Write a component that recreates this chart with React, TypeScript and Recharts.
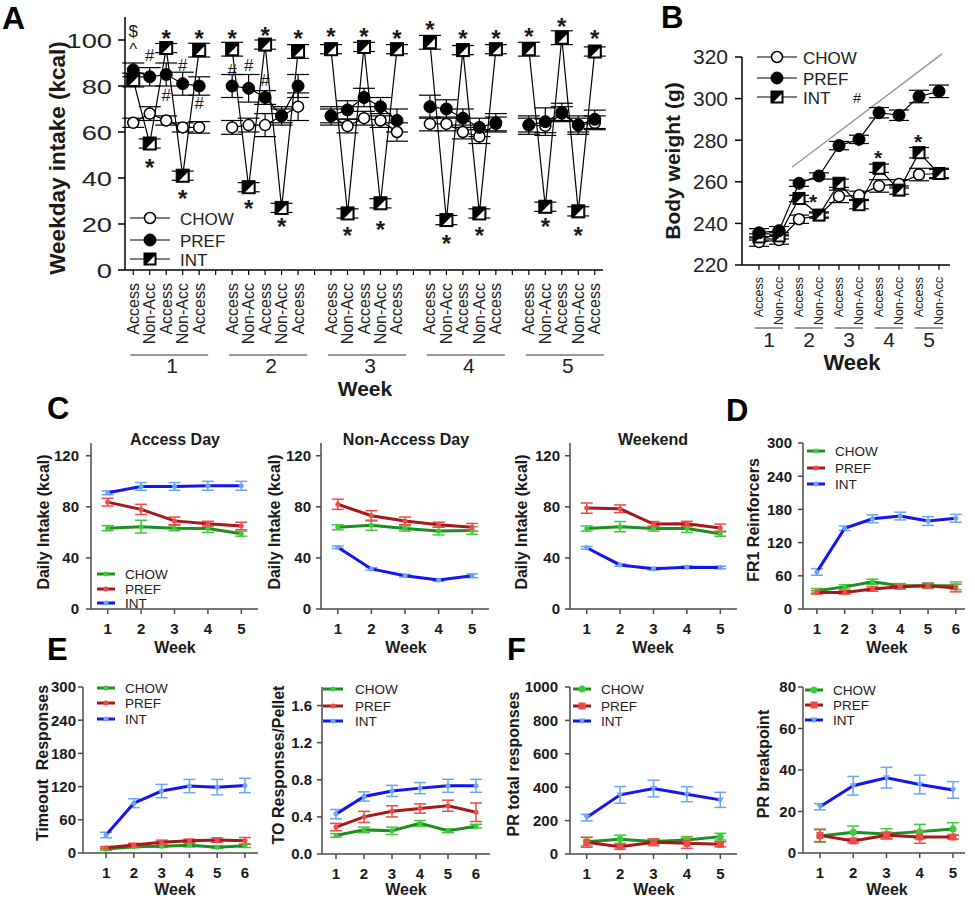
import React from 'react';
import { ComposedChart, Line, XAxis, YAxis, ErrorBar, ReferenceDot, ReferenceLine } from 'recharts';

const FONT = '"Liberation Sans", Arial, Helvetica, sans-serif';
const INK = '#1a1a1a';

// ================= Panel A: weekday intake =================
const aWeeks = ['1', '2', '3', '4', '5'];
const aDays = ['Access', 'Non-Acc', 'Access', 'Non-Acc', 'Access'];
const aChow = [64, 68, 65, 62, 62, 62, 63, 63, 67, 71, 67, 62.6, 66, 65, 60, 63.5, 63.5, 60, 58, 63.5, 63, 62.7, 68, 63, 64];
const aChowErr = [2, 3, 2, 2, 2.5, 3, 3, 5, 3, 6, 3, 3, 3, 3, 4, 3, 3, 3, 3, 3, 3, 3, 3, 3, 3];
const aPref = [87, 84, 85, 81, 80, 80, 79, 75, 67, 80, 67, 69.6, 75, 71, 65, 71, 70, 66, 62, 64, 63, 64.5, 68.5, 63, 65.5];
const aPrefErr = [3, 4, 5, 5, 4, 5, 6, 3, 4, 5, 4, 4, 4, 4, 5, 5, 4, 4, 4, 4, 4, 6, 4, 4, 4];
const aInt = [82.6, 55, 96.5, 41, 95.6, 96, 36, 98, 27, 95, 96, 24.6, 97, 29, 96, 99, 21.7, 95.6, 24.6, 96, 96, 27.5, 101, 25.5, 95];
const aIntErr = [3, 2, 2, 2, 3, 3, 2, 2, 2, 3, 2, 2, 2, 2, 2, 3, 2, 2, 2, 2, 3, 2, 3, 2, 2];
// [week index, day index, value, symbol]
const aNotes: [number, number, number, string][] = [
  [0, 0, 104, '$'], [0, 0, 97.5, '^'], [0, 1, 93.5, '#'], [0, 1, 47, '*'], [0, 2, 103, '*'], [0, 2, 76, '#'],
  [0, 3, 89, '#'], [0, 3, 33.5, '*'], [0, 4, 103, '*'], [0, 4, 72.6, '#'],
  [1, 0, 103, '*'], [1, 0, 87, '#'], [1, 1, 89, '#'], [1, 1, 29, '*'], [1, 2, 104, '*'], [1, 2, 82.6, '#'],
  [1, 3, 21, '*'], [1, 4, 103, '*'],
  [2, 0, 103.6, '*'], [2, 1, 17.4, '*'], [2, 2, 103.6, '*'], [2, 3, 20, '*'], [2, 4, 103, '*'],
  [3, 0, 107, '*'], [3, 1, 13.8, '*'], [3, 2, 103, '*'], [3, 3, 17.4, '*'], [3, 4, 103, '*'],
  [4, 0, 103.6, '*'], [4, 1, 21, '*'], [4, 2, 108, '*'], [4, 3, 17.4, '*'], [4, 4, 103, '*'],
];

// ================= Panel B: body weight =================
const bWeeks = ['1', '2', '3', '4', '5'];
const bDays = ['Access', 'Non-Acc'];
const bChow = [231, 232, 242, 244, 253, 253.5, 258, 259, 263.5, 264];
const bChowErr = [2, 2, 2, 1.5, 3, 2, 3, 2, 3, 2];
const bPref = [235.5, 236.5, 259.3, 262.8, 277.4, 280.4, 293.2, 292, 301, 303.5];
const bPrefErr = [2, 2, 1.5, 1.5, 2, 2, 2.5, 2.5, 3, 3];
const bInt = [233.5, 234, 252, 244, 259.3, 249, 266.5, 256, 274, 264];
const bIntErr = [1.5, 1.5, 1.5, 1, 2, 2, 2, 2, 2.5, 2.5];
const bNotes = [
  { x: 2.7, y: 252.5, t: '*' },
  { x: 5.95, y: 274, t: '*' },
  { x: 7.95, y: 281.5, t: '*' },
  { x: 4.9, y: 300.3, t: '#' },
];
const bTrend = [{ x: 1.65, y: 267 }, { x: 9.15, y: 321.5 }];

// ================= Panels C-F =================
const weeks5 = [1, 2, 3, 4, 5];
const weeks6 = [1, 2, 3, 4, 5, 6];

const cAccChow = [63.3, 64.5, 63.3, 63, 59];
const cAccChowErr = [2, 5, 2, 3, 2];
const cAccPref = [83.7, 78, 69, 66.7, 65];
const cAccPrefErr = [3, 4, 3, 2, 3];
const cAccInt = [91, 96, 96, 96.5, 96.5];
const cAccIntErr = [1.5, 3, 3, 3.5, 3.5];

const cNonChow = [64, 65.6, 63, 61, 61.5];
const cNonChowErr = [2, 4, 2, 3, 3];
const cNonPref = [82, 73, 69, 66, 64];
const cNonPrefErr = [4, 4, 3, 2, 3];
const cNonInt = [48.4, 31.4, 26, 22.7, 26];
const cNonIntErr = [1, 1, 1, 1, 1.5];

const cWkndChow = [63, 64.5, 63, 63, 59];
const cWkndChowErr = [2, 4, 2, 3, 2];
const cWkndPref = [79, 78.5, 66.5, 66.7, 63.5];
const cWkndPrefErr = [4, 3, 2, 2, 3];
const cWkndInt = [48, 34.5, 31.5, 32.7, 32.5];
const cWkndIntErr = [1, 1, 1, 1, 1];

const dChow = [33, 40, 49, 42, 42, 42];
const dChowErr = [4, 4, 5, 4, 5, 7];
const dPref = [30, 30, 36, 40, 42, 38];
const dPrefErr = [3, 3, 4, 4, 4, 7];
const dInt = [67, 146, 163, 168, 159, 164];
const dIntErr = [6, 4, 7, 7, 8, 7];

const eToChow = [7, 11.5, 12, 14, 10.5, 13];
const eToChowErr = [2, 2, 2, 3, 2, 3];
const eToPref = [9.6, 14.5, 19.3, 22, 23.5, 22];
const eToPrefErr = [2, 3, 4, 3, 4, 6];
const eToInt = [32.5, 90, 112, 121, 119, 122];
const eToIntErr = [5, 8, 12, 12, 14, 13];

const eRatioChow = [0.2, 0.26, 0.25, 0.33, 0.25, 0.3];
const eRatioChowErr = [0.02, 0.03, 0.04, 0.03, 0.02, 0.02];
const eRatioPref = [0.29, 0.4, 0.46, 0.49, 0.52, 0.45];
const eRatioPrefErr = [0.04, 0.06, 0.06, 0.05, 0.06, 0.1];
const eRatioInt = [0.43, 0.62, 0.68, 0.71, 0.735, 0.735];
const eRatioIntErr = [0.05, 0.05, 0.06, 0.06, 0.07, 0.07];

const fRespChow = [74, 88, 75, 84, 104];
const fRespChowErr = [25, 25, 15, 20, 20];
const fRespPref = [70, 44, 70, 64, 58];
const fRespPrefErr = [30, 15, 20, 30, 15];
const fRespInt = [218, 354, 392, 358, 324];
const fRespIntErr = [20, 50, 50, 45, 45];

const fBpChow = [8.2, 10, 9.2, 10.3, 11.6];
const fBpChowErr = [3, 3, 2.5, 3.5, 3];
const fBpPref = [8.5, 5.8, 8.5, 7.7, 7.7];
const fBpPrefErr = [3, 1, 1.5, 3, 1];
const fBpInt = [22.3, 32.4, 36.3, 33, 30.4];
const fBpIntErr = [1.5, 4.5, 5, 4.5, 4];

const SERIES = [
  { key: 'chow', name: 'CHOW', line: '#1E8E1E', light: '#3DCB3D' },
  { key: 'pref', name: 'PREF', line: '#A81818', light: '#F04A4A' },
  { key: 'int', name: 'INT', line: '#1515EE', light: '#6AA6F2' },
];

// ================= markers =================
const OpenCircle = ({ cx, cy, r = 5.5 }: any) => (
  <circle cx={cx} cy={cy} r={r} fill="#fff" stroke="#000" strokeWidth={1.5} />
);
const FilledCircle = ({ cx, cy, r = 6 }: any) => (
  <circle cx={cx} cy={cy} r={r} fill="#000" stroke="#000" strokeWidth={1} />
);
const HalfSquare = ({ cx, cy, s = 12 }: any) => {
  const h = s / 2;
  return (
    <g>
      <rect x={cx - h} y={cy - h} width={s} height={s} fill="#000" stroke="#000" strokeWidth={1} />
      <polygon points={`${cx + h - 1.5},${cy - h + 3} ${cx + h - 1.5},${cy + h - 1.5} ${cx - h + 3},${cy + h - 1.5}`} fill="#fff" />
    </g>
  );
};

const dotFn = (Comp: any, extra: any = {}) => (p: any) => {
  const key = `${p.dataKey}-${p.index}`;
  if (p.cx == null || p.cy == null || p.value == null || Number.isNaN(p.cy)) return <g key={key} />;
  return <Comp key={key} cx={p.cx} cy={p.cy} {...extra} />;
};

const MiniMarker = ({ shape, cx, cy, color }: any) => {
  if (shape === 'square') return <rect x={cx - 3.5} y={cy - 3.5} width={7} height={7} fill={color} />;
  if (shape === 'tri') return <polygon points={`${cx - 3.5},${cy - 2.5} ${cx + 3.5},${cy - 2.5} ${cx},${cy + 3.5}`} fill={color} />;
  if (shape === 'big') return <circle cx={cx} cy={cy} r={3.5} fill={color} />;
  return <circle cx={cx} cy={cy} r={2.5} fill={color} />;
};

const miniDot = (shape: string, color: string) => (p: any) => {
  const key = `${p.dataKey}-${p.index}`;
  if (p.cx == null || p.cy == null) return <g key={key} />;
  return <MiniMarker key={key} shape={shape} cx={p.cx} cy={p.cy} color={color} />;
};

const NoteText = ({ cx, cy, t, size }: any) => {
  const star = t === '*';
  const fs = star ? size : size * 0.7;
  const offs: any = { '*': 0.57, '#': 0.36, '$': 0.36, '^': 0.55 };
  return (
    <text x={cx} y={cy + fs * (offs[t] ?? 0.36)} textAnchor="middle" fontSize={fs}
      fontWeight={star ? 700 : 400} fill={INK} fontFamily={FONT}>{t}</text>
  );
};

const renderNotes = (notes: { x: number; y: number; t: string }[], size: number) =>
  notes.map((n, i) => (
    <ReferenceDot key={`note-${i}`} x={n.x} y={n.y} r={0} ifOverflow="visible"
      shape={(p: any) => <NoteText cx={p.cx} cy={p.cy} t={n.t} size={size} />} />
  ));

// ================= Panel A =================
const aData = (() => {
  const rows: any[] = [];
  for (let w = 0; w < aWeeks.length; w++) {
    for (let d = 0; d < 6; d++) {
      const slot = w * 6 + d;
      if (d === 5) {
        if (w < aWeeks.length - 1) rows.push({ x: slot, chow: null, pref: null, int: null });
        continue;
      }
      const i = w * 5 + d;
      rows.push({
        x: slot, chow: aChow[i], chowErr: aChowErr[i], pref: aPref[i], prefErr: aPrefErr[i],
        int: aInt[i], intErr: aIntErr[i],
      });
    }
  }
  return rows;
})();
const aSlots = aData.map((r) => r.x);
const aNoteData = aNotes.map(([w, d, v, t]) => ({ x: w * 6 + d, y: v, t }));

const ATick = (props: any) => {
  const { x, y, payload } = props;
  const s = payload.value as number;
  const d = s % 6;
  if (d === 5) return <g />;
  const w = Math.floor(s / 6);
  return (
    <g>
      <text transform={`translate(${x + 5.5},${y + 5}) rotate(-90)`} textAnchor="end" fontSize={16}
        fill="#222" fontFamily={FONT}>{aDays[d]}</text>
      {d === 2 && (
        <g>
          <line x1={x - 36} x2={x + 42} y1={y + 77} y2={y + 77} stroke="#777" strokeWidth={1.5} />
          <text x={x + 6} y={y + 95} textAnchor="middle" fontSize={21} fill="#222" fontFamily={FONT}>{aWeeks[w]}</text>
        </g>
      )}
    </g>
  );
};

const AYTick = (props: any) => {
  const { x, y, payload } = props;
  return (
    <text transform={`translate(${x},${y + 7.5}) scale(1.3,1)`} textAnchor="end" fontSize={21}
      fill="#222" fontFamily={FONT}>{payload.value}</text>
  );
};

function PanelA() {
  const x0 = 125, x1 = 603, yTop = 17, yBottom = 270, yw = 75, xh = 130, mt = 12, mr = 10;
  const axis = { stroke: '#000', strokeWidth: 1.5 };
  return (
    <div style={{ position: 'absolute', left: x0 - yw, top: yTop - mt }}>
      <ComposedChart width={yw + x1 - x0 + mr} height={mt + yBottom - yTop + xh} data={aData}
        margin={{ top: mt, right: mr, bottom: 0, left: 0 }}>
        <XAxis type="number" dataKey="x" domain={[-0.5, 28.5]} ticks={aSlots} interval={0} height={xh}
          tickSize={5} tickMargin={3} tick={(p: any) => <ATick {...p} />} axisLine={axis} tickLine={{ stroke: '#000', strokeWidth: 1.2 }} />
        <YAxis type="number" domain={[0, 110]} ticks={[0, 20, 40, 60, 80, 100]} interval={0} width={yw}
          tickSize={7} tickMargin={6} tick={(p: any) => <AYTick {...p} />} axisLine={axis} tickLine={axis} />
        <Line dataKey="chow" stroke="#000" strokeWidth={1.2} isAnimationActive={false} connectNulls={false}
          dot={dotFn(OpenCircle)} activeDot={false}>
          <ErrorBar dataKey="chowErr" width={11} stroke="#000" strokeWidth={1.2} direction="y" />
        </Line>
        <Line dataKey="pref" stroke="#000" strokeWidth={1.2} isAnimationActive={false} connectNulls={false}
          dot={dotFn(FilledCircle)} activeDot={false}>
          <ErrorBar dataKey="prefErr" width={11} stroke="#000" strokeWidth={1.2} direction="y" />
        </Line>
        <Line dataKey="int" stroke="#000" strokeWidth={1.2} isAnimationActive={false} connectNulls={false}
          dot={dotFn(HalfSquare, { s: 13 })} activeDot={false}>
          <ErrorBar dataKey="intErr" width={11} stroke="#000" strokeWidth={1.2} direction="y" />
        </Line>
        {renderNotes(aNoteData, 24)}
      </ComposedChart>
    </div>
  );
}

// ================= Panel B =================
const bData = bChow.map((v, i) => ({
  x: i, chow: v, chowErr: bChowErr[i], pref: bPref[i], prefErr: bPrefErr[i], int: bInt[i], intErr: bIntErr[i],
}));
const bSlots = bData.map((r) => r.x);

const BTick = (props: any) => {
  const { x, y, payload } = props;
  const i = payload.value as number;
  const d = i % 2;
  const w = Math.floor(i / 2);
  return (
    <g>
      <text transform={`translate(${x + 4.3},${y + 4}) rotate(-90)`} textAnchor="end" fontSize={12.5}
        fill="#222" fontFamily={FONT}>{bDays[d]}</text>
      {d === 0 && (
        <g>
          <line x1={x - 4} x2={x + 24} y1={y + 55} y2={y + 55} stroke="#777" strokeWidth={1.5} />
          <text x={x + 10} y={y + 74} textAnchor="middle" fontSize={21} fill="#222" fontFamily={FONT}>{bWeeks[w]}</text>
        </g>
      )}
    </g>
  );
};

function PanelB() {
  const x0 = 742, x1 = 950, yTop = 57, yBottom = 265, yw = 100, xh = 120, mt = 14, mr = 15;
  const axis = { stroke: '#000', strokeWidth: 1.5 };
  return (
    <div style={{ position: 'absolute', left: x0 - yw, top: yTop - mt }}>
      <ComposedChart width={yw + x1 - x0 + mr} height={mt + yBottom - yTop + xh} data={bData}
        margin={{ top: mt, right: mr, bottom: 0, left: 0 }}>
        <XAxis type="number" dataKey="x" domain={[-0.85, 9.55]} ticks={bSlots} interval={0} height={xh}
          tickSize={5} tickMargin={3} tick={(p: any) => <BTick {...p} />} axisLine={axis} tickLine={{ stroke: '#000', strokeWidth: 1.2 }} />
        <YAxis type="number" domain={[220, 320]} ticks={[220, 240, 260, 280, 300, 320]} interval={0} width={yw}
          tickSize={7} tickMargin={7} tick={{ fontSize: 21, fill: '#222', fontFamily: FONT }} axisLine={axis} tickLine={axis} />
        <ReferenceLine segment={bTrend} stroke="#999" strokeWidth={1.5} ifOverflow="visible" />
        <Line dataKey="chow" stroke="#000" strokeWidth={1.2} isAnimationActive={false} dot={dotFn(OpenCircle)} activeDot={false}>
          <ErrorBar dataKey="chowErr" width={10} stroke="#000" strokeWidth={1.2} direction="y" />
        </Line>
        <Line dataKey="int" stroke="#000" strokeWidth={1.2} isAnimationActive={false} dot={dotFn(HalfSquare, { s: 12 })} activeDot={false}>
          <ErrorBar dataKey="intErr" width={10} stroke="#000" strokeWidth={1.2} direction="y" />
        </Line>
        <Line dataKey="pref" stroke="#000" strokeWidth={1.2} isAnimationActive={false} dot={dotFn(FilledCircle)} activeDot={false}>
          <ErrorBar dataKey="prefErr" width={10} stroke="#000" strokeWidth={1.2} direction="y" />
        </Line>
        {renderNotes(bNotes, 21)}
      </ComposedChart>
    </div>
  );
}

// ================= Panels C-F =================
function Mini(props: any) {
  const { x0, x1, yTop, yBottom, xDomain, weeks, yDomain, yTicks, yTickMargin, series, shapes, yFmt } = props;
  const yw = 62, xh = 34, mt = 10, mr = 10;
  const data = weeks.map((w: number, i: number) => ({
    x: w,
    chow: series[0][i], chowErr: series[1][i],
    pref: series[2][i], prefErr: series[3][i],
    int: series[4][i], intErr: series[5][i],
  }));
  const axisStyle = { stroke: '#4a4a4a', strokeWidth: 1.5 };
  const tickStyle = { fontSize: 15, fontWeight: 700, fill: '#1a1a1a', fontFamily: FONT };
  return (
    <div style={{ position: 'absolute', left: x0 - yw, top: yTop - mt }}>
      <ComposedChart width={yw + (x1 - x0) + mr} height={mt + (yBottom - yTop) + xh} data={data}
        margin={{ top: mt, right: mr, bottom: 0, left: 0 }}>
        <XAxis type="number" dataKey="x" domain={xDomain} ticks={weeks} interval={0} height={xh}
          tickSize={5} tickMargin={9} tick={tickStyle} axisLine={axisStyle} tickLine={axisStyle} />
        <YAxis type="number" domain={yDomain} ticks={yTicks} interval={0} width={yw} tickSize={5}
          tickMargin={yTickMargin} tick={tickStyle} tickFormatter={yFmt} axisLine={axisStyle} tickLine={axisStyle} />
        {SERIES.map((s, k) => (
          <Line key={s.key} dataKey={s.key} stroke={s.line} strokeWidth={3} isAnimationActive={false}
            dot={miniDot(shapes[k], s.light)} activeDot={false}>
            <ErrorBar dataKey={`${s.key}Err`} width={6} stroke={s.light} strokeWidth={1.5} direction="y" />
          </Line>
        ))}
      </ComposedChart>
    </div>
  );
}

function MiniLegend({ x, ys, shapes, len = 18, gap = 28 }: any) {
  return (
    <g>
      {SERIES.map((s, i) => (
        <g key={s.key}>
          <line x1={x} x2={x + len} y1={ys[i]} y2={ys[i]} stroke={s.line} strokeWidth={3} />
          <MiniMarker shape={shapes[i]} cx={x + len / 2} cy={ys[i]} color={s.light} />
          <text x={x + gap} y={ys[i] + 5} fontSize={13.5} fill="#222" fontFamily={FONT}>{s.name}</text>
        </g>
      ))}
    </g>
  );
}

function BigLegend({ x, ys, textX, lineEnd }: any) {
  const names = ['CHOW', 'PREF', 'INT'];
  const markers = [OpenCircle, FilledCircle, HalfSquare];
  return (
    <g>
      {names.map((n, i) => {
        const M = markers[i];
        const mx = (x + lineEnd) / 2;
        return (
          <g key={n}>
            <line x1={x} x2={lineEnd} y1={ys[i]} y2={ys[i]} stroke="#000" strokeWidth={1.2} />
            <M cx={mx} cy={ys[i]} />
            <text x={textX} y={ys[i] + 6.5} fontSize={17} fill="#222" fontFamily={FONT}>{n}</text>
          </g>
        );
      })}
    </g>
  );
}

const VLabel = ({ x, y, fs, children }: any) => (
  <text transform={`translate(${x},${y}) rotate(-90)`} textAnchor="middle" fontSize={fs} fontWeight={700}
    fill={INK} fontFamily={FONT} style={{ whiteSpace: 'pre' }}>{children}</text>
);
const HLabel = ({ x, y, fs = 16, children }: any) => (
  <text x={x} y={y} textAnchor="middle" fontSize={fs} fontWeight={700} fill={INK} fontFamily={FONT}>{children}</text>
);
const Letter = ({ x, y, fs = 31, children }: any) => (
  <text x={x} y={y} fontSize={fs} fontWeight={700} fill="#000" fontFamily={FONT}>{children}</text>
);

const dotShapes = ['dot', 'dot', 'dot'];
const fShapes = ['big', 'square', 'tri'];

export default function App() {
  return (
    <div style={{ position: 'absolute', left: 0, top: 0, width: 975, height: 900, background: '#fff', fontFamily: FONT, overflow: 'hidden' }}>
      <PanelA />
      <PanelB />
      <Mini x0={91} x1={258} yTop={443} yBottom={609} xDomain={[0.5, 5.5]} weeks={weeks5} yDomain={[0, 130]}
        yTicks={[0, 40, 80, 120]} yTickMargin={7} shapes={dotShapes}
        series={[cAccChow, cAccChowErr, cAccPref, cAccPrefErr, cAccInt, cAccIntErr]} />
      <Mini x0={321} x1={489} yTop={443} yBottom={609} xDomain={[0.5, 5.5]} weeks={weeks5} yDomain={[0, 130]}
        yTicks={[0, 40, 80, 120]} yTickMargin={5} shapes={dotShapes}
        series={[cNonChow, cNonChowErr, cNonPref, cNonPrefErr, cNonInt, cNonIntErr]} />
      <Mini x0={570} x1={737} yTop={443} yBottom={609} xDomain={[0.5, 5.5]} weeks={weeks5} yDomain={[0, 130]}
        yTicks={[0, 40, 80, 120]} yTickMargin={5} shapes={dotShapes}
        series={[cWkndChow, cWkndChowErr, cWkndPref, cWkndPrefErr, cWkndInt, cWkndIntErr]} />
      <Mini x0={803} x1={965} yTop={443} yBottom={609} xDomain={[0.5, 6.33]} weeks={weeks6} yDomain={[0, 300]}
        yTicks={[0, 60, 120, 180, 240, 300]} yTickMargin={6} shapes={dotShapes}
        series={[dChow, dChowErr, dPref, dPrefErr, dInt, dIntErr]} />
      <Mini x0={83} x1={258} yTop={687} yBottom={853} xDomain={[0.17, 6.47]} weeks={weeks6} yDomain={[0, 300]}
        yTicks={[0, 60, 120, 180, 240, 300]} yTickMargin={2} shapes={dotShapes}
        series={[eToChow, eToChowErr, eToPref, eToPrefErr, eToInt, eToIntErr]} />
      <Mini x0={322} x1={490} yTop={687} yBottom={854} xDomain={[0.5, 6.5]} weeks={weeks6} yDomain={[0, 1.8]}
        yTicks={[0, 0.4, 0.8, 1.2, 1.6]} yTickMargin={5} shapes={dotShapes} yFmt={(v: number) => v.toFixed(1)}
        series={[eRatioChow, eRatioChowErr, eRatioPref, eRatioPrefErr, eRatioInt, eRatioIntErr]} />
      <Mini x0={570} x1={737} yTop={687} yBottom={854} xDomain={[0.5, 5.5]} weeks={weeks5} yDomain={[0, 1000]}
        yTicks={[0, 200, 400, 600, 800, 1000]} yTickMargin={7} shapes={fShapes}
        series={[fRespChow, fRespChowErr, fRespPref, fRespPrefErr, fRespInt, fRespIntErr]} />
      <Mini x0={803} x1={965} yTop={687} yBottom={853} xDomain={[0.49, 5.36]} weeks={weeks5} yDomain={[0, 80]}
        yTicks={[0, 20, 40, 60, 80]} yTickMargin={2} shapes={fShapes}
        series={[fBpChow, fBpChowErr, fBpPref, fBpPrefErr, fBpInt, fBpIntErr]} />

      <svg width={975} height={900} style={{ position: 'absolute', left: 0, top: 0, zIndex: 10, pointerEvents: 'none' }}>
        <Letter x={2} y={29} fs={32}>A</Letter>
        <Letter x={661} y={28}>B</Letter>
        <Letter x={47} y={419}>C</Letter>
        <Letter x={726} y={421}>D</Letter>
        <Letter x={47} y={660}>E</Letter>
        <Letter x={507} y={660}>F</Letter>

        <VLabel x={65} y={158} fs={22.5}>Weekday intake (kcal)</VLabel>
        <HLabel x={365} y={396} fs={21}>Week</HLabel>
        <BigLegend x={130} lineEnd={170} textX={180} ys={[218, 240, 259]} />

        <VLabel x={680} y={161} fs={21}>Body weight (g)</VLabel>
        <HLabel x={852} y={370} fs={22}>Week</HLabel>
        <BigLegend x={757} lineEnd={797} textX={803} ys={[57, 78, 97]} />

        <HLabel x={175} y={445}>Access Day</HLabel>
        <HLabel x={406} y={445}>Non-Access Day</HLabel>
        <HLabel x={653} y={445}>Weekend</HLabel>
        <VLabel x={48.5} y={522} fs={16}>Daily Intake (kcal)</VLabel>
        <VLabel x={280} y={522} fs={16}>Daily Intake (kcal)</VLabel>
        <VLabel x={527} y={522} fs={16}>Daily Intake (kcal)</VLabel>
        <VLabel x={759} y={520} fs={16}>FR1 Reinforcers</VLabel>
        <HLabel x={175} y={653}>Week</HLabel>
        <HLabel x={406} y={653}>Week</HLabel>
        <HLabel x={653} y={653}>Week</HLabel>
        <HLabel x={887} y={653}>Week</HLabel>
        <MiniLegend x={97} ys={[574, 589, 603]} shapes={dotShapes} />
        <MiniLegend x={807} ys={[451, 468, 484]} shapes={dotShapes} />

        <VLabel x={47.5} y={763} fs={16}>{'Timeout  Responses'}</VLabel>
        <VLabel x={284} y={765} fs={16}>TO Responses/Pellet</VLabel>
        <VLabel x={519} y={764} fs={16}>PR total responses</VLabel>
        <VLabel x={769} y={764} fs={16}>PR breakpoint</VLabel>
        <HLabel x={175} y={895}>Week</HLabel>
        <HLabel x={406} y={895}>Week</HLabel>
        <HLabel x={654} y={895}>Week</HLabel>
        <HLabel x={887} y={895}>Week</HLabel>
        <MiniLegend x={97} ys={[688, 703, 719]} shapes={dotShapes} />
        <MiniLegend x={323} ys={[689, 706, 721]} shapes={dotShapes} len={20} gap={32} />
        <MiniLegend x={573} ys={[689, 706, 721]} shapes={fShapes} />
        <MiniLegend x={805} ys={[690, 705, 720]} shapes={fShapes} />
      </svg>
    </div>
  );
}
